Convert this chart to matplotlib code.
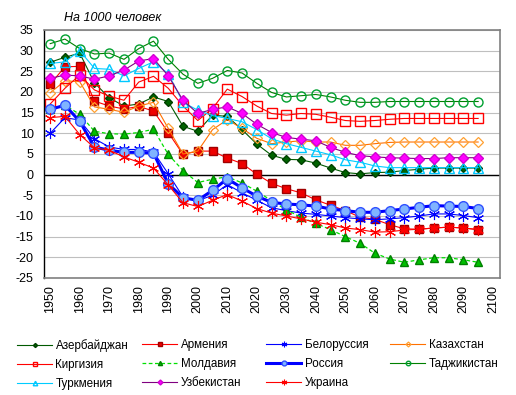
import matplotlib
matplotlib.use("Agg")
import matplotlib.pyplot as plt

years = [1950, 1955, 1960, 1965, 1970, 1975, 1980, 1985, 1990, 1995,
         2000, 2005, 2010, 2015, 2020, 2025, 2030, 2035, 2040, 2045,
         2050, 2055, 2060, 2065, 2070, 2075, 2080, 2085, 2090, 2095]

azerbaijan = [27.2, 28.4, 29.4, 22.2, 18.6, 16.6, 17.1, 18.8, 17.7, 11.7,
              10.5, 14.4, 14.1, 10.9, 7.4, 4.7, 3.7, 3.6, 2.8, 1.6,
              0.5, 0.2, 0.5, 0.6, 1.0, 1.3, 1.6, 1.6, 1.6, 1.6]
armenia = [21.9, 26.1, 26.2, 17.8, 16.6, 15.9, 16.5, 15.4, 10.2, 4.9,
           5.7, 5.7, 4.0, 2.7, 0.1, -2.1, -3.4, -4.4, -6.1, -7.4,
           -8.7, -10.3, -10.8, -12.1, -13.1, -13.2, -12.9, -12.7, -12.9, -13.3]
belarus = [10.0, 13.8, 13.2, 8.7, 6.7, 6.1, 6.1, 5.5, 0.2, -5.4,
           -6.3, -5.0, -2.4, -4.4, -6.2, -8.0, -8.7, -9.3, -9.6, -10.0,
           -10.4, -10.7, -10.9, -10.7, -10.4, -10.0, -9.5, -9.5, -9.9, -10.4]
kazakhstan = [19.8, 22.7, 22.5, 16.4, 15.8, 15.1, 16.6, 17.5, 11.2, 5.0,
              5.7, 10.9, 13.3, 11.2, 8.8, 7.5, 7.9, 8.2, 7.9, 7.9,
              7.1, 7.1, 7.5, 7.8, 7.9, 7.9, 7.9, 7.9, 7.9, 7.9]
kyrgyzstan = [17.1, 20.9, 24.1, 20.5, 19.0, 18.0, 22.4, 23.8, 20.9, 16.6,
              13.1, 16.0, 20.7, 18.9, 16.6, 14.8, 14.4, 14.8, 14.6, 13.9,
              13.1, 12.9, 13.1, 13.4, 13.6, 13.6, 13.6, 13.6, 13.6, 13.6]
moldova = [16.0, 16.8, 14.6, 10.5, 9.9, 9.8, 10.2, 11.0, 4.9, 1.0,
           -1.9, -1.1, -0.5, -2.0, -4.0, -6.3, -8.5, -10.3, -11.8, -13.3,
           -15.0, -16.6, -19.0, -20.4, -21.2, -20.6, -20.1, -20.1, -20.6, -21.2]
russia = [15.8, 16.8, 12.9, 6.7, 5.9, 5.4, 5.4, 5.2, -2.2, -5.6,
          -6.2, -3.8, -1.0, -3.2, -5.2, -6.7, -7.1, -7.3, -7.6, -8.3,
          -8.7, -9.1, -9.1, -8.7, -8.3, -7.9, -7.5, -7.6, -7.7, -8.2]
tajikistan = [31.7, 32.8, 30.5, 29.2, 29.4, 27.9, 30.5, 32.3, 27.9, 24.3,
              22.1, 23.3, 25.2, 24.6, 22.1, 19.9, 18.8, 19.1, 19.4, 18.8,
              18.0, 17.5, 17.5, 17.7, 17.7, 17.7, 17.7, 17.7, 17.7, 17.7]
turkmenistan = [26.9, 27.3, 30.0, 25.7, 25.5, 23.9, 25.7, 27.3, 24.4, 17.5,
                15.6, 14.3, 13.6, 12.8, 10.9, 8.7, 7.5, 6.6, 5.7, 4.8,
                3.6, 3.0, 2.1, 1.7, 1.7, 1.7, 1.7, 1.7, 1.7, 1.7]
uzbekistan = [23.3, 24.1, 23.9, 23.1, 23.9, 25.3, 27.5, 28.1, 23.9, 18.0,
              14.8, 15.8, 16.4, 14.8, 12.2, 10.2, 9.0, 8.6, 8.2, 6.6,
              5.4, 4.6, 4.3, 4.1, 4.0, 3.9, 3.9, 4.1, 4.1, 4.1]
ukraine = [13.8, 14.1, 9.7, 6.5, 5.9, 4.3, 3.0, 1.6, -2.5, -6.8,
           -7.7, -6.2, -4.8, -6.4, -8.2, -9.3, -10.0, -10.7, -11.5, -12.1,
           -12.9, -13.3, -13.9, -13.8, -13.4, -13.2, -12.9, -12.7, -12.9, -13.3]

names = ["Азербайджан", "Армения", "Белоруссия", "Казахстан", "Киргизия",
         "Молдавия", "Россия", "Таджикистан", "Туркмения", "Узбекистан", "Украина"]
series = [azerbaijan, armenia, belarus, kazakhstan, kyrgyzstan,
          moldova, russia, tajikistan, turkmenistan, uzbekistan, ukraine]

x_ticks = [1950, 1960, 1970, 1980, 1990, 2000, 2010, 2020, 2030, 2040,
           2050, 2060, 2070, 2080, 2090, 2100]
y_ticks = [-25, -20, -15, -10, -5, 0, 5, 10, 15, 20, 25, 30, 35]

ast = (6, 2, 0)
styles = [
    dict(color="#005A00", lw=0.8, marker="D", ms=4.2, mfc="#006400", mec="#004000"),
    dict(color="#FF0000", lw=0.8, marker="s", ms=5.5, mfc="#EE0000", mec="#A00000"),
    dict(color="#0000FF", lw=0.8, marker=ast, ms=8, mfc="#0000FF", mec="#0000FF", mew=0.8),
    dict(color="#FF7000", lw=0.8, marker="D", ms=5, mfc="none", mec="#FFA030", mew=0.9),
    dict(color="#FF0000", lw=0.8, marker="s", ms=6.5, mfc="none", mec="#FF0000", mew=1.0),
    dict(color="#00E000", lw=0.9, ls=(0, (3, 2)), marker="^", ms=6, mfc="#00C000", mec="#008000"),
    dict(color="#0000FF", lw=2.2, marker="o", ms=7, mfc="#80B4FF", mec="#3050FF", mew=1.0),
    dict(color="#008000", lw=0.8, marker="o", ms=6.5, mfc="none", mec="#00A030", mew=1.0),
    dict(color="#00CCFF", lw=0.8, marker="^", ms=6.5, mfc="none", mec="#00C8FF", mew=1.0),
    dict(color="#800080", lw=0.8, marker="D", ms=5, mfc="#FF00FF", mec="#D000D0"),
    dict(color="#FF0000", lw=0.8, marker=ast, ms=8, mfc="#FF0000", mec="#FF0000", mew=0.8),
]

plt.rcParams["font.family"] = ["Liberation Sans", "DejaVu Sans"]

fig = plt.figure(figsize=(5.16, 3.95), dpi=100)
ax = fig.add_axes([44 / 516, 1 - 278 / 395, 456 / 516, 248 / 395])

handles = []
for s, name, st in zip(series, names, styles):
    h, = ax.plot(years, s, label=name, **st)
    handles.append(h)

ax.set_xlim(1947.9, 2102.4)
ax.set_ylim(-25, 35)
ax.set_yticks(y_ticks)
ax.set_xticks(x_ticks)
ax.set_xticklabels([str(v) for v in x_ticks], rotation=90, fontsize=9)
ax.set_yticklabels([str(v) for v in y_ticks], fontsize=9)
ax.tick_params(axis="y", length=0, pad=7.5)
ax.tick_params(axis="x", length=0, pad=5)
ax.grid(axis="y", color="#BFBFBF", lw=0.8)
ax.set_axisbelow(True)
ax.axhline(0, color="black", lw=1.0, zorder=1.5)
for side in ["top", "right", "bottom"]:
    ax.spines[side].set_color("#808080")
    ax.spines[side].set_linewidth(1.2)
ax.spines["left"].set_color("black")
ax.spines["left"].set_linewidth(1.0)

fig.text(64 / 516, 1 - 18 / 395, "На 1000 человек", fontsize=9, style="italic",
         va="center", ha="left")

# legend: 4 equally spaced columns, row-major order as in the original
col_x = [17, 142, 266, 390]
ncols = 4
for c in range(ncols):
    idx = list(range(c, len(names), ncols))
    fig.legend([handles[i] for i in idx], [names[i] for i in idx],
               ncol=1, loc="upper left",
               bbox_to_anchor=(col_x[c] / 516, 1 - 339 / 395),
               frameon=False, fontsize=8.4, handlelength=3.0, handletextpad=0.3,
               labelspacing=0.62, borderpad=0, borderaxespad=0,
               markerscale=0.5)

fig.savefig("out.png", dpi=100)
